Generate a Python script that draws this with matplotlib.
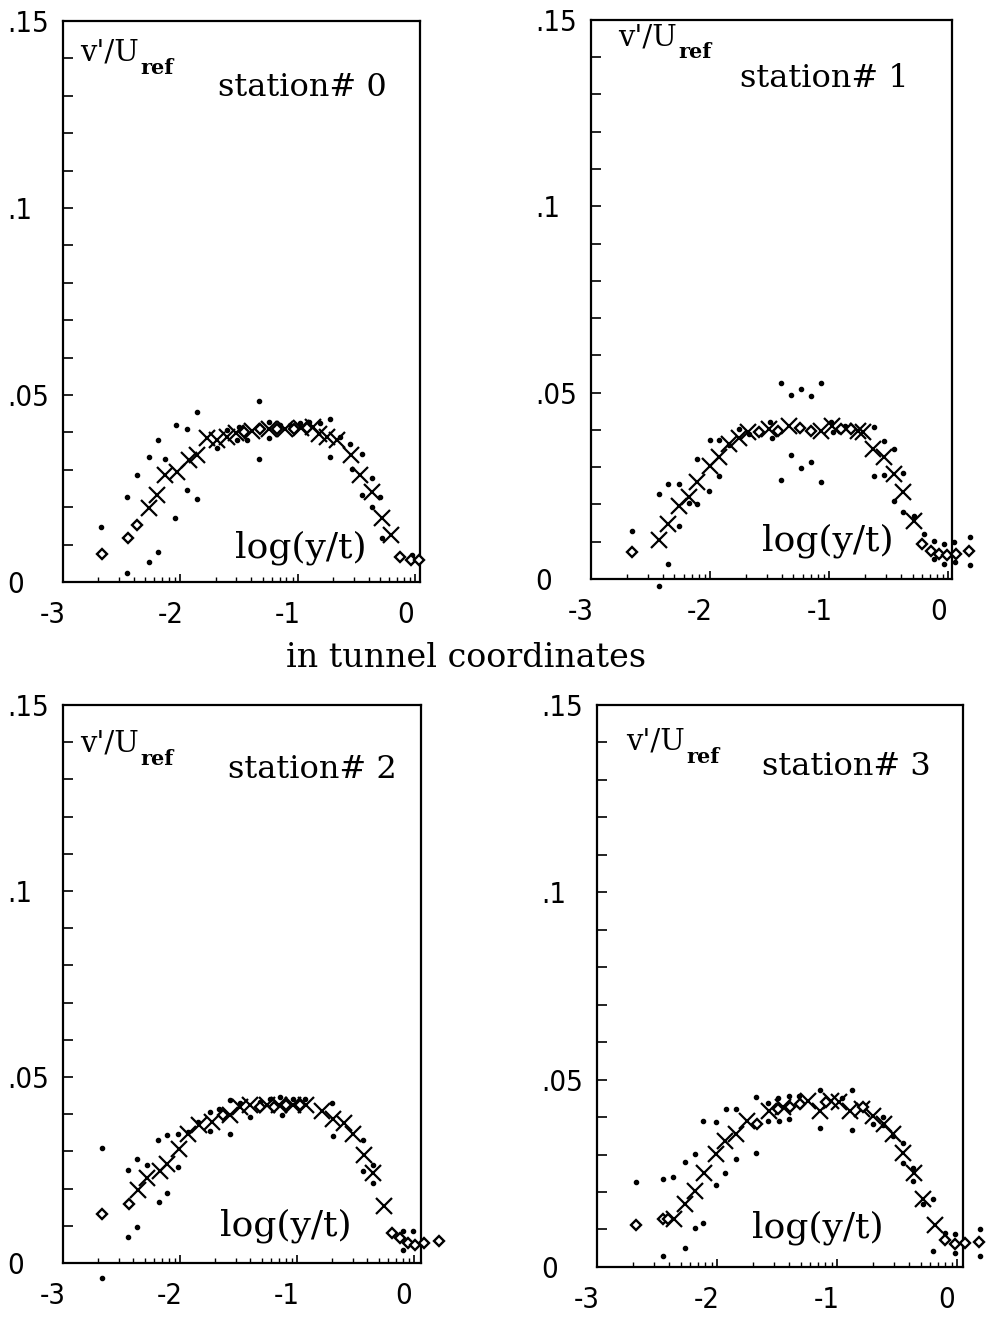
import matplotlib
matplotlib.use('Agg')
import matplotlib.pyplot as plt
import numpy as np
from matplotlib import font_manager
from matplotlib.ticker import FixedLocator, MultipleLocator
from matplotlib.transforms import ScaledTranslation

#### data (x = log10(y/t), y = v'/U_ref)
# station 0
s0_dia_x = [-2.67, -2.45, -2.37, -1.46, -1.32, -1.18, -1.03, -0.92, -0.13, -0.04, 0.03]
s0_dia_y = [0.0074, 0.0117, 0.0152, 0.0402, 0.0410, 0.0408, 0.0410, 0.0412, 0.0068, 0.0060, 0.0060]
s0_crs_x = [-2.27, -2.20, -2.13, -2.03, -1.93, -1.86, -1.77, -1.69, -1.60, -1.53, -1.39, -1.25, -1.11,
            -0.97, -0.87, -0.82, -0.75, -0.67, -0.55, -0.47, -0.37, -0.28, -0.21]
s0_crs_y = [0.0197, 0.0232, 0.0286, 0.0295, 0.0326, 0.0339, 0.0384, 0.0379, 0.0388, 0.0398, 0.0405,
            0.0408, 0.0410, 0.0412, 0.0414, 0.0397, 0.0388, 0.0379, 0.0339, 0.0286, 0.0241, 0.0170, 0.0126]
s0_dot_x = [-2.675, -2.454, -2.454, -2.369, -2.27, -2.27, -2.193, -2.193, -2.128, -2.043, -2.034, -1.943,
            -1.943, -1.858, -1.858, -1.688, -1.603, -1.518, -1.504, -1.433, -1.333, -1.333, -1.248,
            -1.248, -1.149, -1.064, -0.979, -0.908, -0.809, -0.723, -0.723, -0.638, -0.553, -0.539,
            -0.454, -0.454, -0.369, -0.298, -0.369, -0.284, -0.029]
s0_dot_y = [0.0148, 0.0228, 0.0023, 0.0286, 0.0335, 0.0054, 0.0379, 0.0081, 0.0330, 0.0170, 0.0419, 0.0410,
            0.0246, 0.0455, 0.0223, 0.0357, 0.0406, 0.0379, 0.0415, 0.0379, 0.0484, 0.0328, 0.0428,
            0.0384, 0.0419, 0.0419, 0.0424, 0.0428, 0.0424, 0.0437, 0.0335, 0.0388, 0.0370, 0.0303,
            0.0343, 0.0232, 0.0277, 0.0228, 0.0201, 0.0117, 0.0072]

# station 1
s1_dia_x = [-2.66, -1.59, -1.43, -1.25, -1.15, -0.90, -0.82, -0.22, -0.15, -0.08, -0.01, 0.06, 0.17]
s1_dia_y = [0.0071, 0.0393, 0.0397, 0.0406, 0.0397, 0.0402, 0.0402, 0.0094, 0.0076, 0.0067, 0.0063,
            0.0067, 0.0076]
s1_crs_x = [-2.43, -2.35, -2.26, -2.18, -2.11, -2.00, -1.93, -1.84, -1.76, -1.68, -1.51, -1.34, -1.07,
            -0.98, -0.76, -0.72, -0.63, -0.54, -0.46, -0.38, -0.29]
s1_crs_y = [0.0105, 0.0148, 0.0196, 0.0219, 0.0259, 0.0304, 0.0326, 0.0362, 0.0379, 0.0393, 0.0402,
            0.0411, 0.0397, 0.0411, 0.0397, 0.0393, 0.0348, 0.0326, 0.0281, 0.0232, 0.0156]
s1_dot_x = [-2.656, -2.433, -2.358, -2.261, -2.358, -2.433, -2.261, -2.178, -2.108, -2.108, -2.006, -1.928,
            -2.003, -1.928, -1.844, -1.761, -1.678, -1.497, -1.483, -1.406, -1.322, -1.239, -1.156,
            -1.067, -1.406, -1.322, -1.239, -1.156, -1.067, -0.983, -0.969, -0.872, -0.628, -0.544,
            -0.461, -0.628, -0.544, -0.378, -0.456, -0.378, -0.289, -0.206, -0.122, -0.039, 0.044,
            0.183, -0.122, -0.039, 0.058, 0.183]
s1_dot_y = [0.0129, 0.0228, 0.0254, 0.0254, 0.0040, -0.0018, 0.0143, 0.0205, 0.0201, 0.0323, 0.0237, 0.0277,
            0.0373, 0.0373, 0.0359, 0.0402, 0.0388, 0.0420, 0.0379, 0.0527, 0.0493, 0.0509, 0.0491,
            0.0527, 0.0265, 0.0332, 0.0299, 0.0314, 0.0259, 0.0421, 0.0393, 0.0411, 0.0409, 0.0370,
            0.0350, 0.0277, 0.0279, 0.0284, 0.0210, 0.0179, 0.0170, 0.0121, 0.0103, 0.0094, 0.0098,
            0.0112, 0.0053, 0.0040, 0.0045, 0.0037]

# station 2
s2_dia_x = [-2.67, -2.44, -1.63, -1.32, -1.20, -1.09, -0.97, -0.19, -0.12, -0.05, 0.01, 0.09, 0.21]
s2_dia_y = [0.0131, 0.0159, 0.0397, 0.0420, 0.0420, 0.0424, 0.0424, 0.0080, 0.0067, 0.0054, 0.0049,
            0.0054, 0.0060]
s2_crs_x = [-2.36, -2.28, -2.17, -2.11, -2.01, -1.93, -1.84, -1.73, -1.57, -1.49, -1.40, -1.26, -1.15,
            -1.03, -0.92, -0.79, -0.69, -0.60, -0.52, -0.43, -0.35, -0.26]
s2_crs_y = [0.0196, 0.0228, 0.0246, 0.0265, 0.0306, 0.0348, 0.0371, 0.0380, 0.0397, 0.0420, 0.0424,
            0.0424, 0.0424, 0.0426, 0.0424, 0.0408, 0.0388, 0.0375, 0.0348, 0.0290, 0.0241, 0.0154]
s2_dot_x = [-2.669, -2.441, -2.441, -2.364, -2.364, -2.279, -2.185, -2.176, -2.108, -2.108, -2.014, -2.014,
            -1.929, -1.843, -1.743, -1.743, -1.664, -1.573, -1.573, -1.487, -1.402, -1.316, -1.231,
            -1.145, -1.131, -1.031, -0.931, -0.704, -0.695, -0.433, -0.347, -0.433, -0.347, -0.091,
            -0.006, -0.091, -2.669]
s2_dot_y = [0.0308, 0.0250, 0.0071, 0.0279, 0.0098, 0.0263, 0.0330, 0.0164, 0.0344, 0.0188, 0.0348, 0.0259,
            0.0353, 0.0380, 0.0406, 0.0355, 0.0415, 0.0438, 0.0346, 0.0429, 0.0393, 0.0433, 0.0442,
            0.0447, 0.0397, 0.0442, 0.0442, 0.0429, 0.0342, 0.0330, 0.0263, 0.0248, 0.0214, 0.0085,
            0.0085, 0.0036, -0.0040]

# station 3
s3_dia_x = [-2.675, -2.447, -2.405, -1.67, -1.49, -1.39, -1.31, -1.09, -0.78, -0.10, -0.02, 0.07, 0.18]
s3_dia_y = [0.0112, 0.0129, 0.0129, 0.0381, 0.0421, 0.0426, 0.0435, 0.0439, 0.0426, 0.0073, 0.0060,
            0.0064, 0.0066]
s3_crs_x = [-2.36, -2.27, -2.18, -2.11, -2.01, -1.93, -1.84, -1.75, -1.57, -1.45, -1.24, -1.14, -1.05,
            -0.98, -0.89, -0.79, -0.70, -0.61, -0.53, -0.45, -0.36, -0.28, -0.18]
s3_crs_y = [0.0129, 0.0167, 0.0203, 0.0252, 0.0301, 0.0337, 0.0355, 0.0390, 0.0417, 0.0426, 0.0444,
            0.0417, 0.0444, 0.0439, 0.0417, 0.0421, 0.0403, 0.0381, 0.0354, 0.0305, 0.0252, 0.0180, 0.0111]
s3_dot_x = [-2.675, -2.447, -2.364, -2.447, -2.267, -2.267, -2.183, -2.183, -2.119, -2.119, -2.008, -2.008,
            -1.933, -1.925, -1.842, -1.842, -1.675, -1.675, -1.572, -1.572, -1.489, -1.481, -1.397,
            -1.397, -1.314, -1.142, -1.142, -0.961, -0.878, -0.878, -0.78, -0.703, -0.619, -0.619,
            -0.53, -0.447, -0.447, -0.364, -0.364, -0.281, -0.197, -0.197, -0.10, -0.017, -0.017,
            0.192, 0.192]
s3_dot_y = [0.0227, 0.0234, 0.0241, 0.0028, 0.0051, 0.0280, 0.0301, 0.0104, 0.0118, 0.0390, 0.0386, 0.0218,
            0.0252, 0.0421, 0.0421, 0.0288, 0.0453, 0.0303, 0.0438, 0.0390, 0.0450, 0.0390, 0.0455,
            0.0395, 0.0455, 0.0471, 0.0372, 0.0450, 0.0471, 0.0366, 0.0430, 0.0381, 0.0399, 0.0378,
            0.0350, 0.0332, 0.0277, 0.0265, 0.0230, 0.0167, 0.0180, 0.0042, 0.0091, 0.0087, 0.0038,
            0.0100, 0.0028]

stations = ['0', '1', '2', '3']
x_ticks = [-3, -2, -1, 0]
x_labels = ['-3', '-2', '-1', '0']
y_ticks = [0, 0.05, 0.1, 0.15]
y_labels = ['0', '.05', '.1', '.15']

#### layout (figure fractions) and per-panel text placement
panel_rect = [[0.0638, 0.5591, 0.3613, 0.4250],
              [0.5982, 0.5614, 0.3654, 0.4235],
              [0.0638, 0.0432, 0.3623, 0.4227],
              [0.6043, 0.0402, 0.3704, 0.4258]]
panel_xmax = [0.04, 0.03, 0.06, 0.05]
vu_pos = [(0.048, 0.930), (0.075, 0.955), (0.047, 0.916), (0.079, 0.920)]
st_pos = [(0.434, 0.881), (0.413, 0.896), (0.461, 0.884), (0.451, 0.890)]
lg_pos = [(0.482, 0.061), (0.474, 0.068), (0.439, 0.066), (0.423, 0.069)]

dia = [(s0_dia_x, s0_dia_y), (s1_dia_x, s1_dia_y), (s2_dia_x, s2_dia_y), (s3_dia_x, s3_dia_y)]
crs = [(s0_crs_x, s0_crs_y), (s1_crs_x, s1_crs_y), (s2_crs_x, s2_crs_y), (s3_crs_x, s3_crs_y)]
dot = [(s0_dot_x, s0_dot_y), (s1_dot_x, s1_dot_y), (s2_dot_x, s2_dot_y), (s3_dot_x, s3_dot_y)]

# narrow plotter-like digits for the tick labels, if a condensed face is around
fonts = font_manager.fontManager.ttflist
names = {f.name for f in fonts}
if 'Liberation Sans Narrow' in names:
    tick_kw = dict(family='Liberation Sans Narrow')
elif any(f.name == 'DejaVu Sans' and f.stretch == 'condensed' for f in fonts):
    tick_kw = dict(family='DejaVu Sans', stretch='condensed')
else:
    tick_kw = dict(family='DejaVu Sans')
serif = 'DejaVu Serif'

# log-decade minor ticks on the log10 axis
minor_x = [k + np.log10(m) for k in range(-3, 1) for m in range(2, 10)]

fig = plt.figure(figsize=(9.88, 13.2), dpi=100)

for i in range(4):
    ax = fig.add_axes(panel_rect[i])
    ax.set_xlim(-3, panel_xmax[i])
    ax.set_ylim(0, 0.15)
    for sp in ax.spines.values():
        sp.set_linewidth(1.6)

    ax.plot(dot[i][0], dot[i][1], 'o', ms=3, color='black', clip_on=False, zorder=3)
    ax.plot(crs[i][0], crs[i][1], 'x', ms=11, mew=1.6, color='black', clip_on=False, zorder=4)
    ax.plot(dia[i][0], dia[i][1], 'D', ms=5.5, mew=1.7, mfc='white', mec='black',
            clip_on=False, zorder=5)

    ax.xaxis.set_major_locator(FixedLocator(x_ticks))
    ax.xaxis.set_minor_locator(FixedLocator(minor_x))
    ax.set_xticklabels(x_labels, fontsize=21, **tick_kw)
    ax.yaxis.set_major_locator(FixedLocator(y_ticks))
    ax.yaxis.set_minor_locator(MultipleLocator(0.01))
    ax.set_yticklabels(y_labels, fontsize=21, ha='left', **tick_kw)

    ax.tick_params(axis='x', which='major', direction='in', length=6, width=1.2, pad=14)
    ax.tick_params(axis='x', which='minor', direction='in', length=3.5, width=1.0)
    ax.tick_params(axis='y', which='both', direction='in', length=7, width=1.2)
    ax.tick_params(axis='y', which='major', pad=40)

    off = ScaledTranslation(-10 / 100, 0, fig.dpi_scale_trans)
    for lab in ax.get_xticklabels():
        lab.set_transform(lab.get_transform() + off)

    t = ax.text(vu_pos[i][0], vu_pos[i][1], "v'/U", transform=ax.transAxes,
                family=serif, fontsize=21, va='baseline', ha='left')
    ax.annotate('ref', xy=(1, 0), xycoords=t, xytext=(1, -1), textcoords='offset points',
                family=serif, fontsize=15, fontweight='bold', va='center', ha='left')
    ax.text(st_pos[i][0], st_pos[i][1], 'station# ' + stations[i], transform=ax.transAxes,
            family=serif, fontsize=23, va='center', ha='left')
    ax.text(lg_pos[i][0], lg_pos[i][1], 'log(y/t)', transform=ax.transAxes,
            family=serif, fontsize=26, va='center', ha='left')

fig.text(0.472, 0.5015, 'in tunnel coordinates', family=serif, fontsize=24,
         ha='center', va='center')

fig.savefig('out.png', dpi=100)
